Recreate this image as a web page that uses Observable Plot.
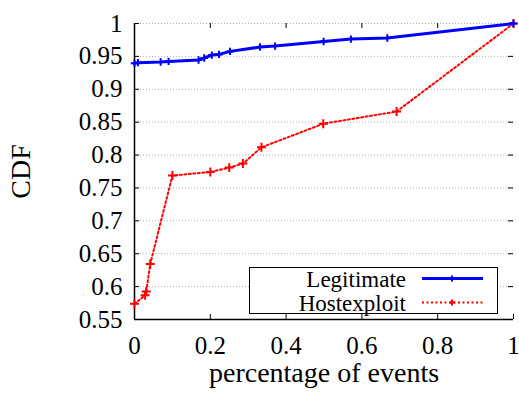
<!DOCTYPE html>
<html><head><meta charset="utf-8">
<script src="https://cdn.jsdelivr.net/npm/d3@7"></script>
<script src="https://cdn.jsdelivr.net/npm/@observablehq/plot@0.6"></script>
<style>body{margin:0;background:#fff} #chart{width:519px;height:393px} #chart svg text{font-family:'Liberation Serif','Times New Roman',serif}</style>
</head><body><div id="chart"></div>
<script>
const seriesNames = ["Legitimate", "Hostexploit"];
const seriesColors = ["#0000ff", "#ff0000"];
const legitX = [0, 0.009, 0.069, 0.090, 0.169, 0.184, 0.204, 0.223, 0.252, 0.331, 0.371, 0.499, 0.571, 0.667, 1];
const legitY = [0.9394, 0.9405, 0.9415, 0.9424, 0.9445, 0.9476, 0.952, 0.953, 0.9576, 0.9642, 0.9657, 0.9727, 0.9763, 0.9779, 1];
const hostX = [0, 0.028, 0.031, 0.0415, 0.100, 0.200, 0.250, 0.286, 0.335, 0.498, 0.6915, 1];
const hostY = [0.5738, 0.587, 0.5924, 0.6344, 0.7688, 0.7742, 0.7809, 0.787, 0.8117, 0.8476, 0.8662, 1];
const xTicks = [0, 0.2, 0.4, 0.6, 0.8, 1];
const xTickLabels = ["0", "0.2", "0.4", "0.6", "0.8", "1"];
const yTicks = [0.55, 0.6, 0.65, 0.7, 0.75, 0.8, 0.85, 0.9, 0.95, 1];
const yTickLabels = ["0.55", "0.6", "0.65", "0.7", "0.75", "0.8", "0.85", "0.9", "0.95", "1"];
const xLabel = "percentage of events";
const yLabel = "CDF";

const legit = legitX.map((x, i) => ({x, y: legitY[i]}));
const host = hostX.map((x, i) => ({x, y: hostY[i]}));

const W = 519, H = 393, mL = 134, mR = 6, mT = 23, mB = 74;
const fh = H - mT - mB, fw = W - mL - mR, tk = 5;
const FONT = "'Liberation Serif', 'Times New Roman', serif";

const plot = Plot.plot({
  width: W, height: H,
  marginLeft: mL, marginRight: mR, marginTop: mT, marginBottom: mB,
  style: {fontFamily: FONT, fontSize: "25px", background: "#fff", color: "#000"},
  x: {domain: [0, 1]},
  y: {domain: [0.55, 1]},
  marks: [
    Plot.ruleY(yTicks.slice(1), {stroke: "#b0b0b0", strokeWidth: 1, strokeDasharray: "1,2"}),
    Plot.tickX(xTicks, {x: d => d, insetTop: fh - tk, stroke: "#000"}),
    Plot.tickX(xTicks, {x: d => d, insetBottom: fh - tk, stroke: "#000"}),
    Plot.tickY(yTicks, {y: d => d, insetRight: fw - tk, stroke: "#000"}),
    Plot.tickY(yTicks, {y: d => d, insetLeft: fw - tk, stroke: "#000"}),
    Plot.ruleX([0], {stroke: "#000", strokeWidth: 1.5}),
    Plot.ruleY([0.55], {stroke: "#000", strokeWidth: 1.5}),
    Plot.axisX(xTicks, {anchor: "bottom", tickSize: 0, tickPadding: 17, fontSize: 25, tickFormat: d => xTickLabels[xTicks.indexOf(d)], label: null}),
    Plot.axisY(yTicks, {anchor: "left", tickSize: 0, tickPadding: 12, fontSize: 25, tickFormat: d => yTickLabels[yTicks.indexOf(d)], label: null}),
    Plot.line(host, {x: "x", y: "y", stroke: seriesColors[1], strokeWidth: 2, strokeDasharray: "2,2.5"}),
    Plot.dot(host, {x: "x", y: "y", symbol: "plus", r: 3, stroke: seriesColors[1], strokeWidth: 2}),
    Plot.line(legit, {x: "x", y: "y", stroke: seriesColors[0], strokeWidth: 3}),
    Plot.dot(legit, {x: "x", y: "y", symbol: "plus", r: 2.5, stroke: seriesColors[0], strokeWidth: 2}),
    Plot.text([xLabel], {frameAnchor: "bottom", lineAnchor: "middle", textAnchor: "middle", dy: 54, fontSize: 28, text: d => d}),
    Plot.text([yLabel], {frameAnchor: "left", lineAnchor: "middle", textAnchor: "middle", dx: -113, rotate: -90, fontSize: 28, text: d => d})
  ]
});
document.getElementById("chart").appendChild(plot);

// legend box inside plot area
const svg = d3.select(plot);
const lg = svg.append("g").style("font-family", FONT).attr("font-size", 23);
lg.append("rect").attr("x", 249.5).attr("y", 267.5).attr("width", 248).attr("height", 46)
  .attr("fill", "#fff").attr("stroke", "#000").attr("stroke-width", 1);
const rows = [{y: 278.5, dash: null, w: 3}, {y: 302.5, dash: "2,2.5", w: 2}];
seriesNames.forEach((name, i) => {
  const r = rows[i];
  lg.append("text").attr("x", 406).attr("y", r.y + 8).attr("text-anchor", "end").text(name);
  lg.append("line").attr("x1", 422).attr("x2", 483).attr("y1", r.y).attr("y2", r.y)
    .attr("stroke", seriesColors[i]).attr("stroke-width", r.w).attr("stroke-dasharray", r.dash);
  lg.append("path").attr("d", "M-3,0H3M0,-3V3").attr("transform", `translate(452,${r.y})`)
    .attr("fill", "none").attr("stroke", seriesColors[i]).attr("stroke-width", 2);
});
</script>
</body></html>
